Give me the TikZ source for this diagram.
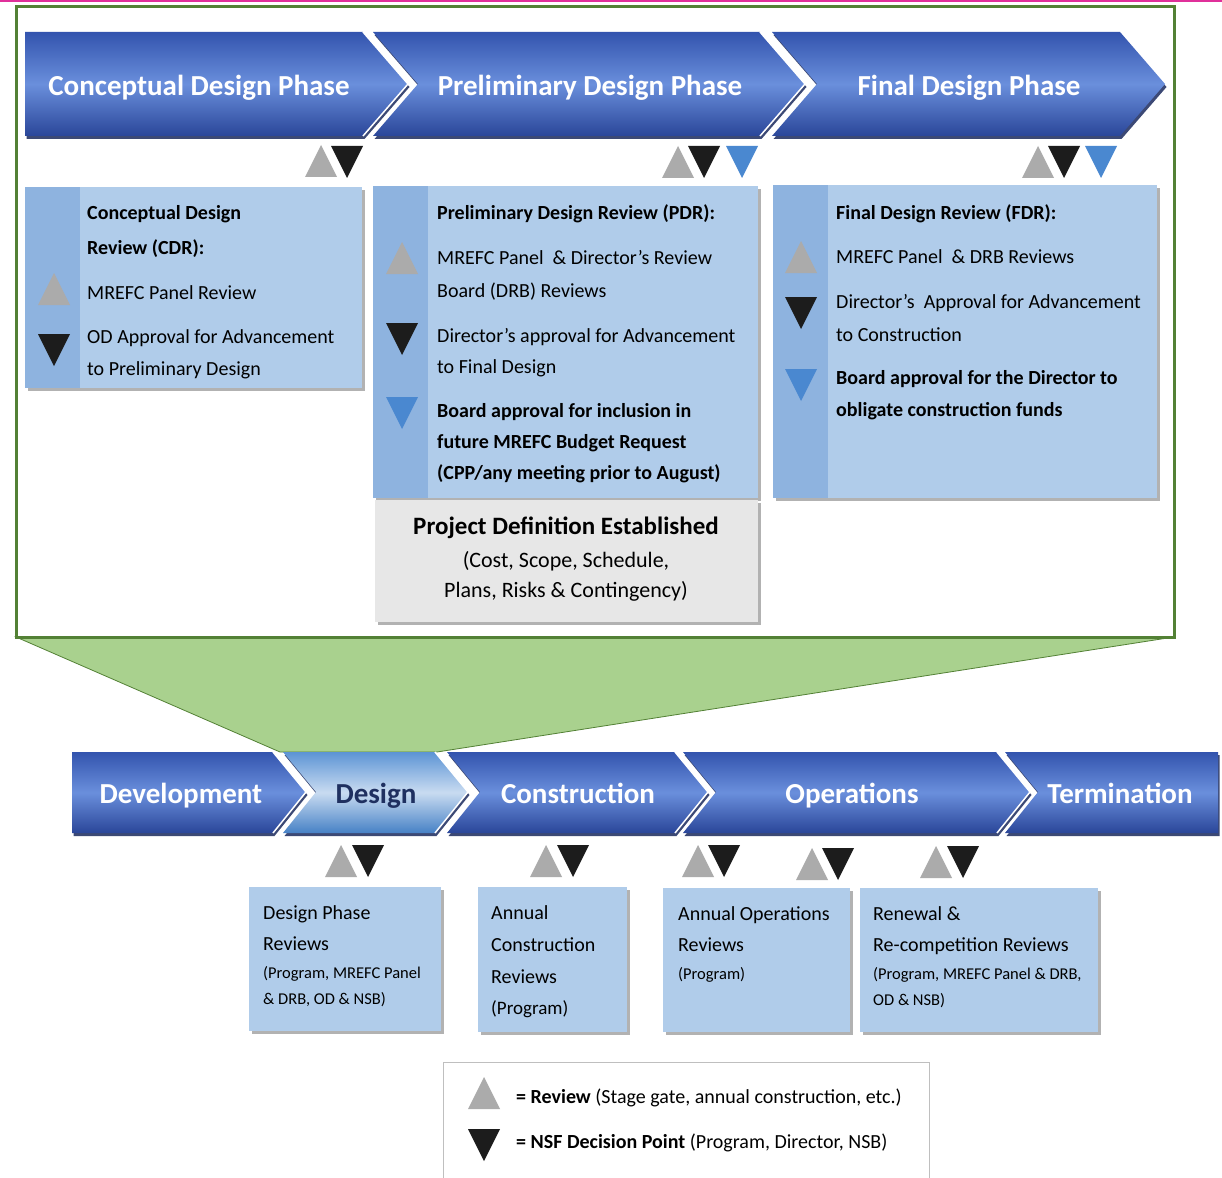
\documentclass[tikz,border=0pt]{standalone}
\usepackage{fontspec}
\setmainfont{Carlito}
\usetikzlibrary{shadows}
\definecolor{grayT}{HTML}{ABABAB}
\definecolor{blackT}{HTML}{1C1C1C}
\definecolor{blueT}{HTML}{4A88D0}
\definecolor{boxfill}{HTML}{B0CCEA}
\definecolor{stripfill}{HTML}{8EB3DF}
\definecolor{grayboxfill}{HTML}{E7E7E7}
\definecolor{greenfill}{HTML}{A9D18E}
\definecolor{greenline}{HTML}{538135}
\definecolor{chevtop}{HTML}{3354AE}
\definecolor{chevmid}{HTML}{6A8FDC}
\definecolor{chevbot}{HTML}{2A4699}
\definecolor{chevshadow}{HTML}{1A2A5E}
\definecolor{pinkline}{HTML}{E0309A}
\definecolor{designtext}{HTML}{1F3060}
\newcommand\upmark[3][grayT]{\fill[#1] ({#2},{#3+32}) -- ({#2+16},{#3}) -- ({#2+32},{#3+32}) -- cycle;}
\newcommand\dnmark[3][blackT]{\fill[#1] ({#2},{#3}) -- ({#2+32},{#3}) -- ({#2+16},{#3+32}) -- cycle;}
\begin{document}
\begin{tikzpicture}[x=1pt,y=-1pt,
  chev/.style={top color=chevtop, bottom color=chevbot, middle color=chevmid,
    drop shadow={shadow xshift=1.5pt, shadow yshift=-3pt, fill=chevshadow, opacity=0.85}},
  chevlight/.style={top color=blueT!90!white, bottom color=blueT!95!black, middle color=blueT!30!white,
    drop shadow={shadow xshift=1.5pt, shadow yshift=-3pt, fill=chevshadow, opacity=0.85}},
  chevedge/.style={draw=white, line width=1.5pt, line join=miter},
  chevtxt/.style={anchor=base, inner sep=0pt, text=white, font=\fontsize{29}{34}\selectfont\bfseries},
  infobox/.style={fill=boxfill, drop shadow={shadow xshift=3pt, shadow yshift=-3pt, fill=black, opacity=0.3}},
  strip/.style={fill=stripfill},
  txt/.style={anchor=base west, inner sep=0pt, text=black, font=\fontsize{20}{24}\selectfont},
  btxt/.style={txt, font=\fontsize{20}{24}\selectfont\bfseries},
  stxt/.style={txt, font=\fontsize{16.5}{20}\selectfont},
  ctxt/.style={anchor=base, inner sep=0pt, text=black, font=\fontsize{22}{26}\selectfont}
]
\useasboundingbox (0,0) rectangle (1222,1177);
\fill[white] (0,0) rectangle (1222,1177);
% top pink line
\draw[pinkline, line width=2.5pt] (0,1) -- (1222,1);
% green zoom trapezoid and frame
\filldraw[fill=greenfill, draw=greenline, line width=0.8pt] (16,637) -- (1174,637) -- (437,752) -- (280,752) -- cycle;
\draw[greenline, line width=3pt] (16,7) rectangle (1174,637);

% ---------- top chevrons ----------
\shade[chev] (25,32) -- (363,32) -- (408,84) -- (363,136) -- (25,136) -- cycle;
\shade[chev] (373,32) -- (760,32) -- (805,84) -- (760,136) -- (373,136) -- (418,84) -- cycle;
\shade[chev] (772,32) -- (1120,32) -- (1165,84) -- (1120,136) -- (772,136) -- (817,84) -- cycle;
\draw[chevedge] (363,32) -- (408,84) -- (363,136);
\draw[chevedge] (760,32) -- (805,84) -- (760,136);
\node[chevtxt] (cdp) at (199,96) {Conceptual Design Phase};
\node[chevtxt] (pdp) at (590,96) {Preliminary Design Phase};
\node[chevtxt] (fdp) at (969,96) {Final Design Phase};

% top markers
\upmark{305}{145} \dnmark{331}{146}
\upmark{662}{146} \dnmark{688}{146} \dnmark[blueT]{726}{146}
\upmark{1022}{146} \dnmark{1048}{146} \dnmark[blueT]{1085}{146}

% ---------- CDR box ----------
\fill[infobox] (25,187) rectangle (362,388);
\fill[strip] (25,187) rectangle (80,388);
\upmark{38}{273} \dnmark{38}{334}
\node[btxt] (cdr1) at (87,219) {Conceptual Design};
\node[btxt] (cdr2) at (87,254) {Review (CDR):};
\node[txt] (cdr3) at (87,299) {MREFC Panel Review};
\node[txt] (cdr4) at (87,343) {OD Approval for Advancement};
\node[txt] (cdr5) at (87,375) {to Preliminary Design};

% ---------- PDR box ----------
\fill[infobox] (373,186) rectangle (758,498);
\fill[strip] (373,186) rectangle (428,498);
\upmark{386}{242} \dnmark{386}{323} \dnmark[blueT]{386}{397}
\node[btxt] (pdr1) at (437,219) {Preliminary Design Review (PDR):};
\node[txt] (pdr2) at (437,264) {MREFC Panel \ \& Director’s Review};
\node[txt] (pdr3) at (437,297) {Board (DRB) Reviews};
\node[txt] (pdr4) at (437,342) {Director’s approval for Advancement};
\node[txt] (pdr5) at (437,373) {to Final Design};
\node[btxt] (pdr6) at (437,417) {Board approval for inclusion in};
\node[btxt] (pdr7) at (437,448) {future MREFC Budget Request};
\node[btxt] (pdr8) at (437,479) {(CPP/any meeting prior to August)};

% project definition box
\fill[fill=grayboxfill, drop shadow={shadow xshift=3pt, shadow yshift=-3pt, fill=black, opacity=0.3}] (375,500) rectangle (758,622);
\node[ctxt, font=\fontsize{25}{30}\selectfont\bfseries] (pde1) at (566,534) {Project Definition Established};
\node[ctxt] (pde2) at (566,567) {(Cost, Scope, Schedule,};
\node[ctxt] (pde3) at (566,597) {Plans, Risks \& Contingency)};

% ---------- FDR box ----------
\fill[infobox] (773,185) rectangle (1157,498);
\fill[strip] (773,185) rectangle (828,498);
\upmark{785}{241} \dnmark{785}{297} \dnmark[blueT]{785}{369}
\node[btxt] (fdr1) at (836,219) {Final Design Review (FDR):};
\node[txt] (fdr2) at (836,263) {MREFC Panel \ \& DRB Reviews};
\node[txt] (fdr3) at (836,308) {Director’s \ Approval for Advancement};
\node[txt] (fdr4) at (836,341) {to Construction};
\node[btxt] (fdr5) at (836,384) {Board approval for the Director to};
\node[btxt] (fdr6) at (836,416) {obligate construction funds};

% ---------- bottom chevrons ----------
\shade[chev] (72,752) -- (273,752) -- (306,792) -- (273,833) -- (72,833) -- cycle;
\shade[chevlight] (283,752) -- (435,752) -- (468,792) -- (435,833) -- (283,833) -- (316,792) -- cycle;
\shade[chev] (447,752) -- (675,752) -- (708,792) -- (675,833) -- (447,833) -- (480,792) -- cycle;
\shade[chev] (683,752) -- (997,752) -- (1030,792) -- (997,833) -- (683,833) -- (716,792) -- cycle;
\shade[chev] (1005,752) -- (1218,752) -- (1218,833) -- (1005,833) -- (1038,792) -- cycle;
\draw[chevedge] (273,752) -- (306,792) -- (273,833);
\draw[chevedge] (435,752) -- (468,792) -- (435,833);
\draw[chevedge] (675,752) -- (708,792) -- (675,833);
\draw[chevedge] (997,752) -- (1030,792) -- (997,833);
\node[chevtxt] (dev) at (181,803) {Development};
\node[chevtxt, text=designtext] (des) at (376,803) {Design};
\node[chevtxt] (con) at (578,803) {Construction};
\node[chevtxt] (ops) at (852,803) {Operations};
\node[chevtxt] (ter) at (1120,803) {Termination};

% bottom markers
\upmark{325}{845} \dnmark{352}{845}
\upmark{530}{845} \dnmark{557}{845}
\upmark{682}{845} \dnmark{708}{845}
\upmark{796}{848} \dnmark{822}{848}
\upmark{920}{846} \dnmark{947}{846}

% ---------- bottom boxes ----------
\fill[infobox] (249,887) rectangle (441,1031);
\node[txt] (ba1) at (263,919) {Design Phase};
\node[txt] (ba2) at (263,950) {Reviews};
\node[stxt] (ba3) at (263,978) {(Program, MREFC Panel};
\node[stxt] (ba4) at (263,1004) {\& DRB, OD \& NSB)};

\fill[infobox] (478,887) rectangle (627,1032);
\node[txt] (bb1) at (491,919) {Annual};
\node[txt] (bb2) at (491,951) {Construction};
\node[txt] (bb3) at (491,983) {Reviews};
\node[txt, font=\fontsize{19}{23}\selectfont] (bb4) at (491,1014) {(Program)};

\fill[infobox] (663,888) rectangle (850,1032);
\node[txt] (bc1) at (678,920) {Annual Operations};
\node[txt] (bc2) at (678,951) {Reviews};
\node[stxt] (bc3) at (678,979) {(Program)};

\fill[infobox] (860,888) rectangle (1098,1032);
\node[txt] (bd1) at (873,920) {Renewal \&};
\node[txt] (bd2) at (873,951) {Re-competition Reviews};
\node[stxt] (bd3) at (873,979) {(Program, MREFC Panel \& DRB,};
\node[stxt] (bd4) at (873,1005) {OD \& NSB)};

% ---------- legend ----------
\draw[black!25, line width=0.8pt] (443,1185) -- (443,1062) -- (929,1062) -- (929,1185);
\upmark{468}{1077} \dnmark{468}{1129}
\node[txt] (lg1) at (516,1103) {\textbf{= Review} (Stage gate, annual construction, etc.)};
\node[txt] (lg2) at (516,1148) {\textbf{= NSF Decision Point} (Program, Director, NSB)};
\end{tikzpicture}
\end{document}
